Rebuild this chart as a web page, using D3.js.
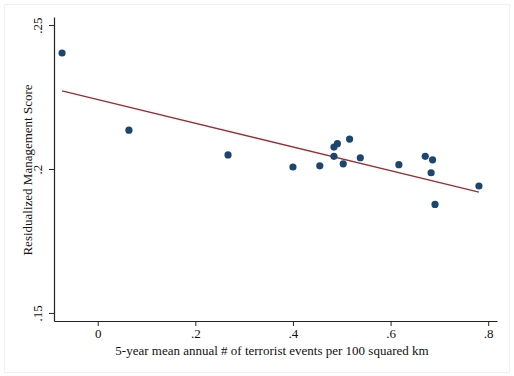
<!DOCTYPE html>
<html><head><meta charset="utf-8">
<script src="https://cdn.jsdelivr.net/npm/d3@7"></script>
<style>body{margin:0;background:#fff;} text{font-family:"Liberation Serif","Times New Roman",serif;}</style>
</head><body>
<script>
const xs = [-0.073, 0.064, 0.267, 0.400, 0.455, 0.484, 0.491, 0.484, 0.503, 0.516, 0.538, 0.617, 0.671, 0.686, 0.683, 0.691, 0.781];
const ys = [0.2403, 0.2135, 0.2049, 0.2007, 0.2011, 0.2076, 0.2088, 0.2044, 0.2018, 0.2104, 0.2039, 0.2015, 0.2044, 0.2032, 0.1987, 0.1877, 0.1941];
const fitX = [-0.073, 0.781];
const fitY = [0.2271, 0.1920];
const xTicks = [0, 0.2, 0.4, 0.6, 0.8];
const xTickLabels = ["0", ".2", ".4", ".6", ".8"];
const yTicks = [0.15, 0.2, 0.25];
const yTickLabels = [".15", ".2", ".25"];
const xTitle = "5-year mean annual # of terrorist events per 100 squared km";
const yTitle = "Residualized Management Score";

const W = 514, H = 376;
const svg = d3.select("body").append("svg").attr("width", W).attr("height", H);
svg.append("rect").attr("x", 4.5).attr("y", 4.5).attr("width", 505).attr("height", 368)
  .attr("fill", "#fff").attr("stroke", "#eef0f4");

const x = d3.scaleLinear().domain([-0.0895, 0.818]).range([54, 497]);
const y = d3.scaleLinear().domain([0.1472, 0.2528]).range([321, 17]);

const xAxis = svg.append("g").attr("transform", "translate(0,321)")
  .call(d3.axisBottom(x).tickValues(xTicks).tickFormat((d, i) => xTickLabels[i]).tickSize(5).tickSizeOuter(0));
xAxis.select(".domain").attr("stroke", "#222").attr("stroke-width", 1.2);
xAxis.selectAll(".tick line").attr("stroke", "#222");
xAxis.selectAll(".tick text").attr("font-size", 13).attr("fill", "#111").attr("y", 7).attr("dy", "0.75em");

const yAxis = svg.append("g").attr("transform", "translate(54,0)")
  .call(d3.axisLeft(y).tickValues(yTicks).tickFormat((d, i) => yTickLabels[i]).tickSize(5).tickSizeOuter(0));
yAxis.select(".domain").attr("stroke", "#222").attr("stroke-width", 1.2);
yAxis.selectAll(".tick line").attr("stroke", "#222");
yAxis.selectAll(".tick text").attr("font-size", 13).attr("fill", "#111")
  .attr("x", 0).attr("dy", 0).attr("text-anchor", "middle")
  .attr("transform", "translate(-12,0) rotate(-90)");

svg.append("text").attr("x", 272).attr("y", 354.5).attr("text-anchor", "middle")
  .attr("font-size", 13).attr("fill", "#111").text(xTitle);
svg.append("text").attr("transform", "translate(32,170) rotate(-90)").attr("text-anchor", "middle")
  .attr("font-size", 13).attr("fill", "#111").text(yTitle);

svg.append("line").attr("x1", x(fitX[0])).attr("y1", y(fitY[0])).attr("x2", x(fitX[1])).attr("y2", y(fitY[1]))
  .attr("stroke", "#9b2d35").attr("stroke-width", 1.3);

svg.append("g").selectAll("circle").data(xs).join("circle")
  .attr("cx", (d) => x(d)).attr("cy", (d, i) => y(ys[i])).attr("r", 3.6).attr("fill", "#1a4670");
</script>
</body></html>
